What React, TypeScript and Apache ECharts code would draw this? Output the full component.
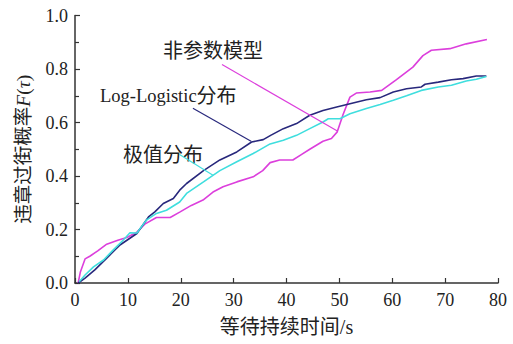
import React, { useEffect, useRef } from "react";
import * as echarts from "echarts";

const xTicks = [0, 10, 20, 30, 40, 50, 60, 70, 80];
const yTicks = [0, 0.2, 0.4, 0.6, 0.8, 1.0];

const npX = [0.6, 1.0, 1.9, 2.8, 4.3, 6, 8.1, 9.8, 11.7, 13.2, 15.4, 18, 19.8, 22, 24.2, 26.1, 28, 30.6, 33.7, 35.5, 36.9, 38.7, 41.2, 42.8, 44.4, 46.9, 48.5, 49.6, 50.7, 52, 53.2, 55.8, 58, 60.8, 63.9, 65.8, 67.4, 70.9, 74, 77.9];
const npY = [0, 0.04, 0.09, 0.1, 0.12, 0.145, 0.16, 0.17, 0.19, 0.22, 0.245, 0.245, 0.265, 0.29, 0.31, 0.34, 0.36, 0.378, 0.397, 0.42, 0.45, 0.46, 0.46, 0.48, 0.5, 0.53, 0.54, 0.565, 0.63, 0.695, 0.71, 0.714, 0.72, 0.76, 0.807, 0.85, 0.87, 0.876, 0.894, 0.91];

const llX = [0.6, 1.9, 3.8, 6, 8.5, 11.7, 13.9, 15.1, 16.7, 18.6, 19.8, 21.1, 24.3, 27.4, 30.6, 33.4, 35.6, 37, 39.4, 41.9, 44.4, 46.9, 49.5, 52, 55.1, 57.7, 60.2, 62.7, 65.5, 66.2, 68.7, 71.2, 73.4, 75.9, 77.8];
const llY = [0, 0.018, 0.05, 0.093, 0.142, 0.185, 0.247, 0.266, 0.297, 0.316, 0.347, 0.372, 0.42, 0.46, 0.49, 0.527, 0.536, 0.552, 0.577, 0.596, 0.627, 0.645, 0.658, 0.67, 0.685, 0.693, 0.714, 0.726, 0.733, 0.743, 0.751, 0.76, 0.764, 0.774, 0.774];

const evX = [0.8, 1.9, 3.5, 5.4, 7.2, 9.1, 10.4, 11.7, 13.5, 15.4, 17.3, 19.8, 21.1, 24.3, 27.4, 30.6, 33.7, 36.9, 39.4, 41.9, 44.4, 46.9, 47.9, 50.1, 52, 55.1, 57.7, 60.2, 62.7, 65.5, 68.7, 71.2, 74, 75.9, 77.8];
const evY = [0.005, 0.03, 0.06, 0.086, 0.123, 0.16, 0.188, 0.187, 0.235, 0.26, 0.272, 0.303, 0.335, 0.378, 0.42, 0.453, 0.484, 0.52, 0.534, 0.552, 0.577, 0.602, 0.614, 0.614, 0.633, 0.652, 0.667, 0.683, 0.7, 0.72, 0.733, 0.739, 0.755, 0.762, 0.772];

// annotation leader lines [x1, y1, x2, y2]
const npLeader = [27.8, 0.817, 49.7, 0.567];
const llLeader = [22.3, 0.653, 33.3, 0.53];
const evLeader = [19.7, 0.481, 26.1, 0.403];

const PINK = "#dc3fdc";
const NAVY = "#28287c";
const CYAN = "#3fdede";
const LATIN = "'Liberation Serif', 'Times New Roman', serif";
const CJK = "'Liberation Serif', 'Noto Sans CJK SC', serif";

const zip = (xs: number[], ys: number[]) => xs.map((x, i) => [x, ys[i]]);

export default function App() {
  const ref = useRef<HTMLDivElement>(null);
  useEffect(() => {
    document.body.style.margin = "0";
    const chart = echarts.init(ref.current!, null, { renderer: "svg" });
    const line = (name: string, data: number[][], color: string, width: number) => ({
      name,
      type: "line",
      data,
      symbol: "none",
      silent: true,
      lineStyle: { color, width },
      itemStyle: { color },
    });
    const leader = (l: number[], color: string) =>
      line("", [[l[0], l[1]], [l[2], l[3]]], color, 1.2);
    chart.setOption({
      animation: false,
      backgroundColor: "#ffffff",
      grid: { left: 75, right: 15, top: 15.5, bottom: 61 },
      xAxis: {
        type: "value",
        min: xTicks[0],
        max: xTicks[xTicks.length - 1],
        interval: 10,
        name: "等待持续时间/s",
        nameLocation: "middle",
        nameGap: 34,
        nameTextStyle: { fontFamily: CJK, fontSize: 20, color: "#222" },
        axisLine: { show: true, lineStyle: { color: "#333", width: 1.5 } },
        axisTick: { show: true, inside: true, length: 5, lineStyle: { color: "#333", width: 1.2 } },
        axisLabel: { fontFamily: LATIN, fontSize: 18, color: "#222", margin: 8 },
        splitLine: { show: false },
      },
      yAxis: {
        type: "value",
        min: yTicks[0],
        max: yTicks[yTicks.length - 1],
        interval: 0.2,
        name: "违章过街概率{i|F}({i|τ})",
        nameLocation: "middle",
        nameGap: 42,
        nameRotate: 90,
        nameTextStyle: {
          fontFamily: CJK,
          fontSize: 19.5,
          color: "#222",
          rich: { i: { fontFamily: LATIN, fontStyle: "italic", fontSize: 19.5, color: "#222" } },
        },
        axisLine: { show: true, lineStyle: { color: "#333", width: 1.5 } },
        axisTick: { show: true, inside: true, length: 5, lineStyle: { color: "#333", width: 1.2 } },
        minorTick: { show: true, splitNumber: 2, length: 4, lineStyle: { color: "#333", width: 1.2 } },
        axisLabel: {
          fontFamily: LATIN,
          fontSize: 18,
          color: "#222",
          margin: 7,
          formatter: (v: number) => v.toFixed(1),
        },
        splitLine: { show: false },
      },
      series: [
        line("非参数模型", zip(npX, npY), PINK, 1.6),
        line("Log-Logistic分布", zip(llX, llY), NAVY, 1.6),
        line("极值分布", zip(evX, evY), CYAN, 1.6),
        leader(npLeader, PINK),
        leader(llLeader, NAVY),
        leader(evLeader, CYAN),
      ],
      graphic: [
        {
          type: "text",
          left: 163,
          top: 41,
          style: { text: "非参数模型", fontFamily: CJK, fontSize: 20, fill: "#222" },
        },
        {
          type: "text",
          left: 100,
          top: 86,
          style: {
            text: "{a|Log-Logistic}{b|分布}",
            fill: "#222",
            rich: {
              a: { fontFamily: LATIN, fontSize: 18.5, fill: "#222" },
              b: { fontFamily: CJK, fontSize: 20, fill: "#222" },
            },
          },
        },
        {
          type: "text",
          left: 123,
          top: 145,
          style: { text: "极值分布", fontFamily: CJK, fontSize: 20, fill: "#222" },
        },
      ],
    });
    return () => chart.dispose();
  }, []);
  return (
    <div
      ref={ref}
      style={{ position: "absolute", left: 0, top: 0, width: 513, height: 344 }}
    />
  );
}
